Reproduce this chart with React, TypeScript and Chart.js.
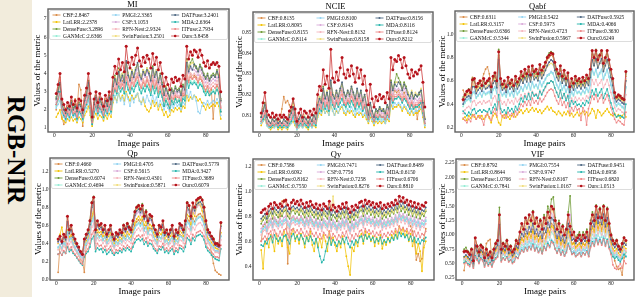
import React, { useEffect, useRef } from 'react';
import { Chart, registerables } from 'chart.js';

Chart.register(...registerables);

const SERIF = '"Liberation Serif", "Times New Roman", serif';

const METHODS = ['CBF', 'LatLRR', 'DenseFuse', 'GANMcC', 'PMGI', 'CSF', 'RFN-Nest', 'SwinFusion', 'DATFuse', 'MDA', 'ITFuse', 'Ours'];
const LINE_COLORS = ['#d98a45', '#f2c200', '#6d9a34', '#93ecd4', '#92d2f0', '#d9aad9', '#f5b5bd', '#f0dd7a', '#4c6682', '#22b3aa', '#ee8686', '#d45050'];
const MARK_COLORS = ['#d98a45', '#f2c200', '#6d9a34', '#93ecd4', '#92d2f0', '#d9aad9', '#f5b5bd', '#f0dd7a', '#4c6682', '#22b3aa', '#ee8686', '#b5121b'];

const X_TICKS = [0, 20, 40, 60, 80];
const X_MIN = -3.35;
const X_MAX = 92.35;

// ---------------- MI ----------------
const MI_MEANS = ['2.8467', '2.2378', '3.2896', '2.6366', '2.3365', '3.1053', '2.9324', '3.2501', '3.2401', '2.6364', '2.7934', '3.8458'];
const MI_TICKS = [1, 2, 3, 4, 5, 6, 7];
const MI_CBF = [2.0,3.2,3.8,1.6,1.2,1.5,2.2,1.8,2.4,1.7, 2.6,2.0,3.4,3.1,1.1,2.5,2.9,3.6,2.4,1.3, 2.2,2.7,2.0,2.5,2.3,1.6,2.5,2.0,2.8,2.2, 3.1,3.6,3.0,4.0,3.3,3.6,3.2,4.3,3.5,3.2, 3.8,3.4,3.7,4.0,3.4,3.2,3.7,3.3,3.8,3.4, 3.0,3.9,3.2,3.6,2.9,3.3,2.8,2.2,2.6,2.3, 2.0,2.6,2.4,2.7,2.5,2.6,2.2,2.8,2.6,4.2, 3.6,4.0,3.7,3.9,3.8,3.5,3.9,3.6,3.2,3.0, 3.3,2.8,3.1,1.5,3.0,3.3,2.9,1.9];
const MI_LATLRR = [1.6,1.8,2.0,1.5,1.4,1.3,1.5,1.4,1.6,1.4, 1.5,1.3,1.6,1.5,1.3,1.7,1.9,2.2,1.7,1.1, 1.6,1.8,1.5,1.7,1.6,1.4,1.7,1.5,1.8,1.6, 2.4,2.7,2.5,2.9,2.6,2.8,2.5,3.0,2.7,2.5, 2.8,2.6,2.7,2.9,2.5,2.4,2.6,2.2,2.0,1.9, 2.1,2.5,2.2,2.4,2.0,2.3,2.0,1.7,1.9,1.6, 1.7,2.0,1.9,2.1,2.0,2.1,1.9,2.2,2.1,2.8, 2.5,2.7,2.6,2.8,2.7,2.5,2.6,2.4,2.2,2.0, 2.3,2.1,2.2,2.3,2.2,2.4,2.2,1.5];
const MI_DENSEFUSE = [2.7,3.1,3.4,2.4,2.1,1.9,2.2,2.0,2.5,2.1, 2.3,2.0,2.4,2.3,1.9,2.6,2.9,3.6,2.7,1.5, 2.4,2.8,2.2,2.7,2.4,2.1,2.6,2.3,2.8,2.4, 3.4,3.9,3.5,4.3,3.7,4.0,3.6,4.6,4.0,3.7, 4.2,3.9,4.3,4.5,4.0,3.8,4.2,4.0,4.3,4.1, 3.7,4.4,3.9,4.2,3.6,4.0,3.5,2.9,3.3,3.0, 2.7,3.2,3.0,3.3,3.1,3.2,2.9,3.4,3.2,4.8, 4.3,4.6,4.8,4.5,4.4,4.2,4.5,4.3,4.0,3.8, 4.0,3.7,3.9,4.0,3.9,4.2,3.9,2.6];
const MI_GANMCC = [2.2,2.5,2.7,1.9,1.7,1.5,1.8,1.6,2.0,1.7, 1.8,1.5,1.9,1.8,1.5,2.1,2.3,2.7,2.1,1.3, 1.9,2.2,1.8,2.1,1.9,1.6,2.1,1.8,2.2,1.9, 2.7,3.1,2.8,3.3,3.0,3.2,2.9,3.6,3.2,3.0, 3.3,3.1,3.4,3.6,3.2,3.0,3.3,3.1,3.4,3.2, 2.9,3.4,3.0,3.3,2.8,3.1,2.8,2.3,2.6,2.4, 2.2,2.6,2.4,2.6,2.5,2.6,2.3,2.7,2.6,3.7, 3.3,3.6,3.5,3.6,3.5,3.3,3.5,3.4,3.1,2.9, 3.1,2.8,3.0,3.1,3.0,3.2,3.0,2.0];
const MI_PMGI = [2.1,2.3,2.5,1.8,1.6,1.4,1.7,1.5,1.9,1.6, 1.7,1.4,1.8,1.7,1.4,1.9,2.1,2.5,1.9,1.2, 1.8,2.0,1.7,1.9,1.8,1.5,1.9,1.7,2.0,1.8, 2.5,2.8,2.4,2.9,2.5,2.7,2.3,2.9,2.6,2.2, 2.7,2.4,2.8,2.9,2.5,2.3,2.7,2.4,2.8,2.5, 2.3,2.8,2.4,2.7,2.2,2.5,2.3,2.0,2.3,2.1, 1.9,2.3,2.1,2.4,2.2,2.3,2.0,2.4,2.3,3.1, 2.7,3.0,2.6,2.8,2.5,1.9,1.8,2.2,2.4,2.3, 2.5,2.3,2.4,2.5,2.4,2.6,2.4,1.7];
const MI_CSF = [2.5,2.9,3.2,2.2,2.0,1.7,2.1,1.9,2.3,1.9, 2.1,1.8,2.2,2.1,1.7,2.4,2.7,3.3,2.5,1.4, 2.2,2.6,2.1,2.5,2.2,1.9,2.4,2.1,2.6,2.2, 3.2,3.6,3.3,4.0,3.5,3.8,3.4,4.3,3.8,3.5, 4.0,3.7,4.0,4.3,3.8,3.6,4.0,3.8,4.1,3.9, 3.5,4.1,3.6,4.0,3.4,3.7,3.3,2.8,3.1,2.8, 2.5,3.0,2.8,3.0,2.9,3.0,2.7,3.1,3.0,4.4, 4.0,4.3,4.2,4.2,4.1,3.9,4.2,4.0,3.7,3.5, 3.7,3.4,3.6,3.7,3.6,3.8,3.6,2.4];
const MI_RFNNEST = [2.4,2.7,3.0,2.1,1.9,1.7,2.0,1.8,2.2,1.9, 2.0,1.7,2.1,2.0,1.7,2.3,2.5,3.0,2.3,1.4, 2.1,2.4,2.0,2.3,2.1,1.8,2.3,2.0,2.4,2.1, 3.0,3.4,3.1,3.7,3.3,3.5,3.2,4.0,3.5,3.3, 3.7,3.4,3.8,4.0,3.5,3.3,3.7,3.5,3.8,3.6, 3.3,3.8,3.4,3.7,3.2,3.5,3.1,2.6,2.9,2.7, 2.4,2.8,2.7,2.9,2.8,2.8,2.6,3.0,2.9,4.1, 3.7,4.0,3.9,4.0,3.9,3.7,3.9,3.8,3.5,3.3, 3.5,3.2,3.4,3.5,3.4,3.6,3.4,2.2];
const MI_SWIN = [2.6,3.0,3.3,2.3,2.1,1.8,2.2,2.0,2.4,2.0, 2.2,1.9,2.3,2.2,1.8,2.6,2.8,3.4,2.6,1.5, 2.3,2.7,2.2,2.6,2.3,2.0,2.6,2.2,2.7,2.3, 3.3,3.8,3.5,4.2,3.7,4.0,3.6,4.6,4.0,3.7, 4.2,3.9,4.3,4.5,4.0,3.8,4.2,4.0,4.3,4.1, 3.7,4.3,3.8,4.2,3.6,3.9,3.4,2.9,3.3,2.9, 2.6,3.1,2.9,3.2,3.0,3.1,2.8,3.3,3.1,4.7, 4.2,4.5,4.6,4.4,4.3,4.1,4.4,4.2,3.9,3.7, 3.9,3.6,3.8,3.9,3.8,4.0,3.8,2.5];
const MI_DATFUSE = [2.6,3.0,3.5,2.3,2.0,1.8,2.1,2.0,2.4,2.0, 2.2,1.9,2.3,2.2,1.8,2.5,2.8,3.5,2.6,1.4, 2.3,2.7,2.1,2.6,2.3,2.0,2.5,2.2,2.7,2.3, 3.3,3.7,3.4,4.1,3.6,3.9,3.5,4.7,3.9,3.6, 4.1,3.8,4.2,4.6,3.9,3.7,4.1,3.9,4.2,4.0, 3.6,4.3,3.8,4.1,3.5,3.9,3.4,2.8,3.2,2.9, 2.6,3.1,2.9,3.2,3.0,3.1,2.8,3.3,3.1,4.6, 4.1,4.4,4.2,4.5,4.3,4.1,4.4,4.2,3.9,3.7, 3.9,3.6,3.8,3.9,3.8,4.1,3.8,2.5];
const MI_MDA = [2.3,2.6,3.0,2.0,1.7,1.5,1.8,1.6,2.0,1.7, 1.8,1.5,1.9,1.8,1.5,2.1,2.3,2.8,2.1,1.2, 1.9,2.2,1.8,2.1,1.9,1.6,2.0,1.8,2.2,1.9, 2.8,3.1,2.9,3.3,3.0,3.2,2.9,3.5,3.1,2.9, 3.2,3.0,3.3,3.5,3.1,2.9,3.2,3.0,3.3,3.1, 2.8,3.3,2.9,3.2,2.7,3.0,2.7,2.2,2.5,2.3, 2.1,2.5,2.3,2.6,2.4,2.5,2.2,2.6,2.5,3.6, 3.2,3.5,3.4,3.5,3.4,3.2,3.4,3.3,3.0,2.8, 3.0,2.8,2.9,3.0,2.9,3.1,2.9,1.9];
const MI_ITFUSE = [2.3,2.6,2.9,2.0,1.8,1.6,1.9,1.7,2.1,1.8, 1.9,1.6,2.0,1.9,1.6,2.2,2.4,2.9,2.2,1.3, 2.0,2.3,1.9,2.2,2.0,1.7,2.2,1.9,2.3,2.0, 2.9,3.2,3.0,3.5,3.2,3.4,3.1,3.8,3.4,3.1, 3.5,3.3,3.6,3.8,3.4,3.2,3.5,3.3,3.6,3.4, 3.1,3.6,3.2,3.5,3.0,3.3,2.9,2.5,2.8,2.6, 2.3,2.7,2.6,2.8,2.7,2.7,2.5,2.9,2.8,3.9, 3.5,3.8,3.7,3.8,3.7,3.5,3.7,3.6,3.3,3.1, 3.3,3.0,3.2,3.3,3.2,3.4,3.2,2.1];
const MI_OURS = [2.9,3.4,4.0,2.6,2.3,2.0,2.4,2.2,2.7,2.3, 2.5,2.1,2.6,2.5,2.0,2.8,3.2,4.0,2.9,1.6, 2.6,3.0,2.4,2.9,2.6,2.2,2.8,2.5,3.0,2.6, 3.8,4.4,4.0,4.8,4.2,4.6,4.1,5.5,4.6,4.3, 4.9,4.5,5.0,5.4,4.7,4.4,4.9,4.6,5.0,4.8, 4.3,5.1,4.5,4.9,4.2,4.6,4.0,3.3,3.8,3.4, 3.1,3.7,3.5,3.8,3.6,3.7,3.3,3.9,3.7,5.5, 4.8,5.2,5.0,5.3,5.2,4.9,5.3,5.0,4.6,4.4, 4.7,4.3,4.5,4.6,4.5,4.6,4.4,3.0];

// ---------------- NCIE ----------------
const NCIE_MEANS = ['0.8135', '0.8095', '0.8155', '0.8114', '0.8100', '0.8143', '0.8132', '0.8158', '0.8156', '0.8116', '0.8124', '0.8212'];
const NCIE_TICKS = [0.81, 0.82, 0.83, 0.84, 0.85];
const NCIE_CBF = [0.806,0.809,0.812,0.806,0.804,0.805,0.806,0.805,0.806,0.805, 0.807,0.813,0.819,0.816,0.817,0.815,0.812,0.814,0.810,0.804, 0.806,0.808,0.805,0.807,0.806,0.805,0.807,0.805,0.808,0.806, 0.813,0.816,0.814,0.820,0.815,0.818,0.814,0.823,0.817,0.815, 0.819,0.816,0.819,0.822,0.817,0.815,0.818,0.816,0.820,0.817, 0.814,0.818,0.815,0.818,0.813,0.816,0.811,0.807,0.812,0.809, 0.806,0.809,0.808,0.810,0.809,0.809,0.807,0.811,0.809,0.822, 0.819,0.822,0.821,0.822,0.820,0.818,0.821,0.819,0.816,0.814, 0.817,0.813,0.815,0.808,0.814,0.816,0.811,0.805];
const NCIE_LATLRR = [0.805,0.807,0.808,0.805,0.804,0.803,0.804,0.804,0.805,0.803, 0.804,0.803,0.804,0.804,0.803,0.805,0.806,0.807,0.805,0.803, 0.804,0.805,0.804,0.805,0.804,0.803,0.805,0.804,0.805,0.804, 0.809,0.811,0.810,0.813,0.811,0.812,0.810,0.815,0.812,0.810, 0.812,0.811,0.813,0.814,0.811,0.810,0.812,0.811,0.812,0.810, 0.809,0.811,0.810,0.811,0.809,0.810,0.808,0.806,0.809,0.807, 0.805,0.807,0.806,0.807,0.806,0.807,0.806,0.808,0.807,0.815, 0.813,0.814,0.814,0.815,0.814,0.812,0.814,0.813,0.811,0.810, 0.812,0.810,0.811,0.811,0.812,0.813,0.809,0.804];
const NCIE_DENSEFUSE = [0.809,0.813,0.816,0.809,0.807,0.806,0.808,0.806,0.808,0.806, 0.807,0.806,0.807,0.807,0.806,0.810,0.812,0.817,0.811,0.805, 0.808,0.810,0.807,0.809,0.808,0.806,0.809,0.807,0.810,0.808, 0.815,0.819,0.817,0.824,0.818,0.821,0.816,0.826,0.820,0.818, 0.821,0.818,0.822,0.825,0.820,0.818,0.821,0.819,0.823,0.820, 0.817,0.822,0.818,0.821,0.816,0.819,0.814,0.810,0.815,0.811, 0.809,0.812,0.811,0.813,0.812,0.812,0.810,0.814,0.812,0.827, 0.823,0.826,0.830,0.828,0.826,0.823,0.826,0.824,0.821,0.819, 0.821,0.818,0.820,0.819,0.820,0.822,0.815,0.808];
const NCIE_GANMCC = [0.806,0.808,0.810,0.805,0.804,0.804,0.805,0.804,0.805,0.804, 0.805,0.804,0.805,0.804,0.804,0.806,0.807,0.809,0.806,0.803, 0.805,0.806,0.804,0.806,0.805,0.804,0.806,0.804,0.806,0.805, 0.811,0.814,0.812,0.816,0.813,0.815,0.812,0.819,0.815,0.813, 0.816,0.814,0.816,0.818,0.815,0.813,0.816,0.814,0.817,0.815, 0.812,0.816,0.813,0.815,0.812,0.814,0.810,0.807,0.811,0.808, 0.806,0.809,0.808,0.809,0.808,0.809,0.807,0.810,0.808,0.819, 0.816,0.818,0.818,0.819,0.818,0.816,0.818,0.817,0.815,0.813, 0.815,0.813,0.814,0.814,0.815,0.816,0.811,0.805];
const NCIE_PMGI = [0.806,0.807,0.809,0.805,0.804,0.804,0.805,0.804,0.805,0.804, 0.805,0.804,0.805,0.804,0.804,0.805,0.806,0.808,0.806,0.803, 0.804,0.805,0.804,0.805,0.805,0.804,0.805,0.804,0.806,0.805, 0.810,0.812,0.811,0.814,0.811,0.813,0.810,0.816,0.812,0.810, 0.813,0.811,0.814,0.815,0.812,0.811,0.813,0.812,0.814,0.812, 0.810,0.813,0.811,0.813,0.810,0.811,0.809,0.807,0.810,0.808, 0.806,0.808,0.807,0.808,0.807,0.808,0.806,0.809,0.808,0.817, 0.814,0.816,0.815,0.816,0.815,0.813,0.815,0.814,0.812,0.811, 0.813,0.811,0.812,0.812,0.813,0.814,0.810,0.805];
const NCIE_CSF = [0.808,0.811,0.814,0.808,0.806,0.806,0.807,0.806,0.807,0.806, 0.807,0.806,0.807,0.806,0.805,0.808,0.810,0.813,0.809,0.805, 0.807,0.809,0.806,0.808,0.807,0.806,0.808,0.806,0.809,0.807, 0.814,0.817,0.815,0.821,0.816,0.819,0.815,0.824,0.818,0.816, 0.820,0.817,0.821,0.823,0.819,0.817,0.820,0.818,0.822,0.819, 0.816,0.820,0.817,0.820,0.815,0.818,0.813,0.809,0.814,0.811, 0.808,0.811,0.810,0.812,0.811,0.811,0.809,0.813,0.811,0.823, 0.820,0.823,0.822,0.823,0.822,0.820,0.823,0.821,0.818,0.816, 0.819,0.816,0.818,0.817,0.818,0.820,0.814,0.807];
const NCIE_RFNNEST = [0.808,0.810,0.812,0.807,0.806,0.805,0.807,0.806,0.807,0.805, 0.806,0.805,0.806,0.806,0.805,0.808,0.809,0.812,0.808,0.804, 0.807,0.808,0.806,0.808,0.807,0.805,0.807,0.806,0.808,0.807, 0.813,0.816,0.814,0.819,0.815,0.817,0.814,0.822,0.817,0.815, 0.818,0.816,0.819,0.821,0.817,0.816,0.818,0.817,0.820,0.818, 0.815,0.819,0.816,0.818,0.814,0.816,0.812,0.809,0.813,0.810, 0.808,0.811,0.810,0.811,0.810,0.810,0.809,0.812,0.810,0.821, 0.818,0.820,0.820,0.821,0.820,0.818,0.820,0.819,0.817,0.815, 0.817,0.815,0.816,0.816,0.817,0.818,0.813,0.806];
const NCIE_SWIN = [0.810,0.812,0.815,0.809,0.807,0.806,0.808,0.807,0.808,0.807, 0.807,0.806,0.808,0.807,0.806,0.809,0.811,0.815,0.810,0.805, 0.808,0.810,0.807,0.810,0.808,0.806,0.809,0.807,0.810,0.808, 0.816,0.819,0.817,0.823,0.819,0.822,0.817,0.826,0.821,0.819, 0.822,0.819,0.823,0.825,0.821,0.819,0.822,0.820,0.824,0.821, 0.818,0.822,0.819,0.822,0.817,0.820,0.815,0.811,0.816,0.812, 0.810,0.813,0.812,0.814,0.813,0.813,0.811,0.815,0.813,0.825, 0.822,0.825,0.826,0.826,0.825,0.822,0.825,0.823,0.821,0.819, 0.822,0.819,0.821,0.820,0.821,0.823,0.817,0.809];
const NCIE_DATFUSE = [0.809,0.812,0.815,0.809,0.807,0.806,0.808,0.807,0.808,0.806, 0.807,0.806,0.808,0.807,0.806,0.809,0.811,0.814,0.810,0.805, 0.808,0.810,0.807,0.809,0.808,0.806,0.809,0.807,0.810,0.808, 0.815,0.818,0.816,0.823,0.818,0.821,0.817,0.827,0.820,0.818, 0.822,0.819,0.823,0.826,0.821,0.819,0.822,0.820,0.824,0.821, 0.818,0.823,0.819,0.822,0.817,0.820,0.815,0.810,0.816,0.812, 0.809,0.813,0.812,0.814,0.812,0.813,0.811,0.815,0.813,0.826, 0.822,0.825,0.824,0.826,0.825,0.822,0.825,0.823,0.820,0.818, 0.821,0.818,0.820,0.819,0.821,0.822,0.816,0.808];
const NCIE_MDA = [0.807,0.808,0.810,0.806,0.805,0.804,0.805,0.805,0.806,0.804, 0.805,0.804,0.805,0.805,0.804,0.806,0.807,0.810,0.807,0.804, 0.805,0.806,0.805,0.806,0.805,0.804,0.806,0.805,0.807,0.805, 0.811,0.813,0.812,0.816,0.813,0.815,0.812,0.819,0.815,0.813, 0.816,0.814,0.816,0.818,0.815,0.814,0.816,0.814,0.817,0.815, 0.813,0.816,0.814,0.816,0.812,0.814,0.811,0.808,0.811,0.809, 0.807,0.809,0.808,0.810,0.809,0.809,0.808,0.810,0.809,0.819, 0.816,0.818,0.818,0.819,0.818,0.816,0.818,0.817,0.815,0.813, 0.815,0.813,0.814,0.814,0.815,0.816,0.811,0.806];
const NCIE_ITFUSE = [0.807,0.809,0.811,0.806,0.805,0.805,0.806,0.805,0.806,0.805, 0.806,0.805,0.806,0.805,0.805,0.807,0.808,0.811,0.808,0.804, 0.806,0.807,0.805,0.807,0.806,0.805,0.807,0.805,0.807,0.806, 0.812,0.815,0.813,0.818,0.814,0.816,0.813,0.821,0.816,0.814, 0.817,0.815,0.818,0.820,0.816,0.815,0.817,0.816,0.819,0.817, 0.814,0.818,0.815,0.817,0.813,0.815,0.811,0.808,0.812,0.809, 0.807,0.810,0.809,0.810,0.809,0.809,0.808,0.811,0.809,0.820, 0.817,0.819,0.819,0.820,0.819,0.817,0.819,0.818,0.816,0.814, 0.816,0.814,0.815,0.815,0.816,0.817,0.812,0.806];
const NCIE_OURS = [0.811,0.816,0.821,0.812,0.810,0.809,0.811,0.809,0.810,0.808, 0.810,0.809,0.810,0.809,0.808,0.812,0.814,0.818,0.813,0.807, 0.811,0.813,0.809,0.812,0.811,0.809,0.812,0.810,0.813,0.811, 0.820,0.824,0.822,0.832,0.825,0.829,0.823,0.842,0.828,0.826, 0.831,0.827,0.833,0.838,0.830,0.828,0.832,0.829,0.834,0.830, 0.826,0.833,0.828,0.832,0.825,0.829,0.822,0.815,0.825,0.818, 0.814,0.819,0.817,0.820,0.818,0.819,0.816,0.821,0.818,0.838, 0.832,0.837,0.836,0.839,0.837,0.833,0.838,0.834,0.830,0.828, 0.832,0.829,0.831,0.830,0.832,0.834,0.826,0.814];

// ---------------- Qabf ----------------
const QABF_MEANS = ['0.6311', '0.3157', '0.6366', '0.5344', '0.5422', '0.5973', '0.4723', '0.5967', '0.5925', '0.4066', '0.3630', '0.6249'];
const QABF_TICKS = [0.2, 0.4, 0.6, 0.8, 1.0];
const QABF_CBF = [0.52,0.47,0.50,0.49,0.47,0.63,0.58,0.52,0.55,0.58, 0.60,0.66,0.70,0.72,0.66,0.52,0.60,0.63,0.56,0.82, 0.58,0.54,0.57,0.52,0.60,0.55,0.58,0.53,0.60,0.55, 0.58,0.64,0.60,0.66,0.62,0.68,0.61,0.69,0.64,0.66, 0.62,0.70,0.65,0.68,0.73,0.78,0.80,0.82,0.81,0.73, 0.66,0.62,0.69,0.60,0.65,0.58,0.63,0.52,0.58,0.55, 0.60,0.56,0.58,0.55,0.59,0.56,0.61,0.58,0.66,0.83, 0.77,0.84,0.76,0.80,0.84,0.72,0.77,0.83,0.75,0.66, 0.58,0.47,0.44,0.46,0.45,0.43,0.42,0.64];
const QABF_LATLRR = [0.27,0.29,0.26,0.30,0.28,0.31,0.29,0.27,0.30,0.28, 0.30,0.27,0.29,0.31,0.28,0.24,0.30,0.32,0.29,0.24, 0.22,0.30,0.28,0.31,0.29,0.27,0.30,0.32,0.29,0.31, 0.33,0.35,0.32,0.34,0.36,0.33,0.35,0.37,0.34,0.36, 0.33,0.35,0.32,0.34,0.36,0.38,0.35,0.37,0.34,0.33, 0.31,0.34,0.32,0.30,0.33,0.31,0.34,0.30,0.32,0.29, 0.31,0.33,0.30,0.32,0.34,0.31,0.33,0.30,0.32,0.36, 0.34,0.28,0.35,0.33,0.30,0.32,0.34,0.36,0.33,0.31, 0.30,0.32,0.29,0.31,0.28,0.30,0.32,0.29];
const QABF_DENSEFUSE = [0.46,0.49,0.50,0.53,0.50,0.62,0.60,0.54,0.57,0.59, 0.55,0.60,0.57,0.59,0.60,0.54,0.62,0.65,0.58,0.87, 0.60,0.56,0.58,0.54,0.61,0.57,0.60,0.55,0.62,0.57, 0.60,0.66,0.62,0.68,0.64,0.70,0.63,0.71,0.66,0.68, 0.64,0.72,0.67,0.71,0.75,0.81,0.84,0.85,0.84,0.75, 0.68,0.64,0.71,0.62,0.67,0.60,0.65,0.53,0.60,0.56, 0.62,0.58,0.60,0.57,0.61,0.58,0.63,0.60,0.68,0.85, 0.79,0.87,0.80,0.83,0.85,0.74,0.79,0.85,0.77,0.68, 0.60,0.48,0.45,0.47,0.46,0.44,0.43,0.66];
const QABF_GANMCC = [0.38,0.41,0.43,0.44,0.42,0.49,0.50,0.45,0.47,0.49, 0.46,0.50,0.48,0.49,0.50,0.45,0.52,0.54,0.49,0.68, 0.50,0.47,0.49,0.46,0.51,0.47,0.50,0.46,0.52,0.48, 0.50,0.54,0.51,0.56,0.53,0.57,0.52,0.58,0.54,0.56, 0.53,0.59,0.55,0.58,0.61,0.64,0.65,0.67,0.66,0.61, 0.56,0.53,0.58,0.52,0.55,0.50,0.54,0.45,0.50,0.47, 0.52,0.49,0.50,0.48,0.51,0.49,0.53,0.50,0.56,0.69, 0.65,0.69,0.63,0.66,0.69,0.61,0.65,0.69,0.63,0.56, 0.50,0.41,0.38,0.40,0.39,0.37,0.36,0.54];
const QABF_PMGI = [0.40,0.42,0.44,0.45,0.43,0.50,0.51,0.46,0.48,0.50, 0.47,0.51,0.49,0.50,0.51,0.46,0.53,0.55,0.50,0.70, 0.51,0.48,0.50,0.47,0.52,0.48,0.51,0.47,0.53,0.49, 0.51,0.55,0.52,0.57,0.54,0.58,0.53,0.59,0.55,0.57, 0.54,0.60,0.56,0.59,0.62,0.65,0.66,0.68,0.67,0.62, 0.57,0.54,0.59,0.53,0.56,0.51,0.55,0.46,0.51,0.48, 0.53,0.50,0.51,0.49,0.52,0.50,0.54,0.51,0.57,0.70, 0.66,0.70,0.64,0.67,0.70,0.62,0.66,0.70,0.64,0.57, 0.51,0.42,0.39,0.41,0.40,0.38,0.37,0.55];
const QABF_CSF = [0.42,0.45,0.47,0.48,0.46,0.56,0.57,0.50,0.53,0.55, 0.52,0.57,0.54,0.55,0.57,0.51,0.59,0.61,0.55,0.78, 0.57,0.52,0.55,0.51,0.58,0.53,0.56,0.52,0.59,0.54, 0.57,0.62,0.58,0.64,0.60,0.66,0.60,0.67,0.62,0.64, 0.61,0.68,0.63,0.66,0.70,0.74,0.76,0.78,0.77,0.70, 0.64,0.61,0.67,0.59,0.63,0.57,0.62,0.51,0.57,0.53, 0.59,0.55,0.57,0.54,0.58,0.55,0.60,0.57,0.64,0.79, 0.74,0.79,0.72,0.76,0.79,0.69,0.74,0.79,0.72,0.64, 0.57,0.46,0.43,0.44,0.43,0.42,0.41,0.62];
const QABF_RFNNEST = [0.32,0.35,0.37,0.38,0.36,0.42,0.43,0.39,0.41,0.42, 0.40,0.43,0.41,0.42,0.43,0.39,0.45,0.47,0.42,0.58, 0.43,0.40,0.42,0.39,0.44,0.41,0.43,0.40,0.45,0.42, 0.44,0.48,0.45,0.49,0.46,0.50,0.46,0.51,0.48,0.49, 0.47,0.52,0.49,0.51,0.54,0.57,0.58,0.60,0.59,0.54, 0.50,0.47,0.52,0.46,0.49,0.45,0.48,0.40,0.45,0.42, 0.46,0.43,0.45,0.43,0.45,0.43,0.47,0.45,0.50,0.61, 0.57,0.61,0.56,0.58,0.61,0.54,0.57,0.61,0.56,0.50, 0.45,0.37,0.34,0.36,0.35,0.33,0.32,0.48];
const QABF_SWIN = [0.43,0.46,0.48,0.49,0.47,0.57,0.56,0.51,0.54,0.55, 0.53,0.57,0.54,0.56,0.57,0.52,0.58,0.61,0.55,0.76, 0.57,0.53,0.55,0.52,0.58,0.54,0.56,0.52,0.59,0.55, 0.57,0.62,0.59,0.64,0.60,0.65,0.60,0.66,0.62,0.64, 0.61,0.67,0.63,0.66,0.69,0.72,0.74,0.75,0.74,0.69, 0.64,0.61,0.66,0.59,0.63,0.57,0.62,0.52,0.57,0.54, 0.59,0.55,0.57,0.55,0.58,0.55,0.60,0.57,0.64,0.78, 0.73,0.78,0.72,0.75,0.78,0.69,0.73,0.78,0.72,0.64, 0.57,0.47,0.44,0.45,0.44,0.43,0.42,0.61];
const QABF_DATFUSE = [0.40,0.44,0.46,0.47,0.45,0.55,0.55,0.49,0.52,0.54, 0.51,0.56,0.53,0.54,0.56,0.50,0.58,0.60,0.54,0.78, 0.56,0.52,0.54,0.50,0.57,0.53,0.55,0.51,0.58,0.53, 0.56,0.61,0.58,0.63,0.59,0.65,0.59,0.66,0.61,0.63, 0.60,0.67,0.62,0.65,0.69,0.73,0.76,0.78,0.77,0.69, 0.63,0.60,0.66,0.58,0.62,0.56,0.61,0.50,0.56,0.52, 0.58,0.54,0.56,0.53,0.57,0.54,0.59,0.56,0.63,0.78, 0.73,0.79,0.71,0.75,0.79,0.68,0.73,0.78,0.71,0.63, 0.56,0.45,0.42,0.44,0.43,0.41,0.40,0.60];
const QABF_MDA = [0.34,0.32,0.30,0.33,0.31,0.35,0.36,0.32,0.34,0.35, 0.33,0.35,0.34,0.33,0.36,0.32,0.37,0.40,0.35,0.48, 0.36,0.33,0.35,0.32,0.37,0.34,0.36,0.33,0.38,0.35, 0.40,0.45,0.42,0.47,0.44,0.49,0.44,0.50,0.47,0.48, 0.45,0.51,0.48,0.52,0.55,0.58,0.58,0.60,0.59,0.54, 0.50,0.46,0.52,0.45,0.49,0.43,0.47,0.38,0.43,0.40, 0.42,0.39,0.40,0.38,0.41,0.39,0.43,0.41,0.46,0.52, 0.48,0.53,0.47,0.50,0.53,0.45,0.49,0.53,0.47,0.41, 0.36,0.31,0.29,0.30,0.30,0.29,0.28,0.40];
const QABF_ITFUSE = [0.28,0.26,0.24,0.27,0.25,0.30,0.31,0.27,0.29,0.30, 0.27,0.22,0.30,0.32,0.29,0.26,0.33,0.36,0.30,0.42, 0.32,0.29,0.31,0.28,0.33,0.30,0.32,0.29,0.34,0.31, 0.36,0.40,0.38,0.42,0.39,0.43,0.39,0.45,0.41,0.43, 0.40,0.45,0.42,0.44,0.47,0.50,0.52,0.53,0.52,0.47, 0.43,0.40,0.45,0.39,0.42,0.37,0.41,0.32,0.37,0.34, 0.38,0.35,0.36,0.26,0.37,0.34,0.22,0.36,0.41,0.47, 0.44,0.48,0.42,0.45,0.48,0.41,0.44,0.48,0.43,0.37, 0.32,0.27,0.24,0.26,0.25,0.23,0.22,0.33];
const QABF_OURS = [0.44,0.48,0.51,0.52,0.50,0.61,0.62,0.55,0.58,0.60, 0.56,0.62,0.58,0.60,0.62,0.55,0.64,0.67,0.60,0.85, 0.62,0.57,0.60,0.55,0.63,0.58,0.61,0.56,0.64,0.59, 0.62,0.68,0.64,0.70,0.66,0.72,0.65,0.73,0.68,0.70, 0.66,0.74,0.69,0.72,0.76,0.80,0.82,0.84,0.83,0.76, 0.70,0.66,0.73,0.64,0.69,0.62,0.67,0.55,0.62,0.58, 0.64,0.60,0.62,0.59,0.63,0.60,0.65,0.62,0.70,0.86, 0.80,0.86,0.78,0.82,0.86,0.75,0.80,0.86,0.78,0.70, 0.62,0.50,0.46,0.48,0.47,0.45,0.44,0.68];

// ---------------- Qp ----------------
const QP_MEANS = ['0.4660', '0.5270', '0.6074', '0.4694', '0.4705', '0.5615', '0.4301', '0.5871', '0.5779', '0.3427', '0.3689', '0.6079'];
const QP_TICKS = [0.0, 0.2, 0.4, 0.6, 0.8, 1.0, 1.2];
const QP_CBF = [0.08,0.38,0.34,0.42,0.36,0.55,0.44,0.48,0.40,0.34, 0.30,0.26,0.22,0.20,0.08,0.38,0.44,0.52,0.68,0.75, 0.44,0.52,0.48,0.50,0.44,0.48,0.40,0.44,0.48,0.40, 0.36,0.42,0.40,0.44,0.42,0.48,0.45,0.50,0.46,0.44, 0.52,0.60,0.64,0.66,0.62,0.66,0.56,0.60,0.52,0.57, 0.56,0.48,0.44,0.40,0.48,0.46,0.52,0.42,0.44,0.40, 0.44,0.48,0.38,0.44,0.41,0.50,0.48,0.44,0.52,0.68, 0.65,0.56,0.68,0.64,0.70,0.72,0.73,0.70,0.64,0.52, 0.44,0.40,0.30,0.18,0.10,0.08,0.06,0.05];
const QP_LATLRR = [0.40,0.50,0.58,0.45,0.42,0.55,0.47,0.50,0.44,0.40, 0.36,0.33,0.30,0.28,0.38,0.43,0.47,0.55,0.70,0.78, 0.48,0.55,0.52,0.53,0.48,0.52,0.44,0.48,0.52,0.44, 0.40,0.45,0.43,0.47,0.45,0.52,0.48,0.53,0.50,0.47, 0.55,0.63,0.67,0.70,0.66,0.70,0.60,0.64,0.56,0.61, 0.59,0.52,0.48,0.44,0.52,0.50,0.55,0.45,0.48,0.44, 0.48,0.52,0.42,0.48,0.45,0.54,0.52,0.48,0.55,0.72, 0.70,0.61,0.74,0.70,0.80,0.84,0.82,0.76,0.68,0.55, 0.46,0.44,0.41,0.38,0.35,0.34,0.33,0.52];
const QP_DENSEFUSE = [0.44,0.47,0.43,0.49,0.46,0.68,0.54,0.58,0.49,0.44, 0.39,0.35,0.30,0.29,0.44,0.49,0.54,0.66,0.86,0.92, 0.54,0.64,0.59,0.61,0.54,0.59,0.49,0.54,0.59,0.49, 0.46,0.52,0.50,0.55,0.53,0.61,0.57,0.63,0.59,0.56, 0.66,0.76,0.81,0.83,0.77,0.84,0.72,0.77,0.64,0.71, 0.69,0.59,0.54,0.49,0.59,0.57,0.64,0.51,0.54,0.49, 0.54,0.59,0.47,0.54,0.51,0.61,0.59,0.54,0.64,0.86, 0.81,0.71,0.84,0.79,0.87,0.88,0.90,0.89,0.81,0.66, 0.56,0.52,0.48,0.46,0.41,0.40,0.39,0.62];
const QP_GANMCC = [0.35,0.38,0.34,0.40,0.37,0.53,0.43,0.46,0.39,0.35, 0.31,0.28,0.25,0.23,0.35,0.39,0.43,0.50,0.65,0.70, 0.43,0.50,0.46,0.48,0.43,0.47,0.40,0.43,0.47,0.40, 0.36,0.41,0.39,0.43,0.41,0.47,0.44,0.48,0.45,0.43, 0.50,0.57,0.61,0.63,0.60,0.63,0.54,0.58,0.50,0.55, 0.54,0.47,0.43,0.39,0.47,0.45,0.50,0.41,0.43,0.39, 0.43,0.47,0.38,0.43,0.41,0.48,0.47,0.43,0.50,0.65, 0.62,0.54,0.65,0.61,0.67,0.69,0.70,0.67,0.61,0.50, 0.43,0.40,0.37,0.35,0.31,0.31,0.30,0.48];
const QP_PMGI = [0.36,0.39,0.35,0.41,0.38,0.52,0.43,0.46,0.40,0.36, 0.32,0.29,0.26,0.24,0.36,0.40,0.44,0.50,0.64,0.68, 0.44,0.50,0.47,0.48,0.44,0.47,0.40,0.44,0.47,0.40, 0.37,0.42,0.40,0.44,0.42,0.47,0.44,0.49,0.46,0.44, 0.50,0.57,0.60,0.62,0.59,0.62,0.54,0.58,0.51,0.55, 0.54,0.47,0.44,0.40,0.47,0.46,0.50,0.42,0.44,0.40, 0.44,0.47,0.39,0.44,0.42,0.48,0.47,0.44,0.50,0.64, 0.62,0.55,0.64,0.61,0.66,0.68,0.69,0.66,0.61,0.50, 0.43,0.41,0.38,0.36,0.32,0.32,0.31,0.48];
const QP_CSF = [0.41,0.44,0.39,0.46,0.43,0.62,0.50,0.54,0.46,0.41, 0.36,0.32,0.28,0.26,0.41,0.45,0.50,0.59,0.77,0.83, 0.51,0.59,0.55,0.56,0.51,0.55,0.46,0.51,0.55,0.46, 0.42,0.48,0.46,0.50,0.48,0.55,0.52,0.57,0.53,0.51, 0.59,0.68,0.73,0.75,0.71,0.75,0.65,0.69,0.60,0.66, 0.64,0.56,0.51,0.46,0.55,0.54,0.59,0.48,0.51,0.46, 0.51,0.55,0.44,0.51,0.48,0.57,0.55,0.51,0.59,0.77, 0.74,0.65,0.77,0.73,0.80,0.82,0.83,0.80,0.73,0.59, 0.50,0.47,0.44,0.41,0.37,0.36,0.35,0.57];
const QP_RFNNEST = [0.33,0.35,0.32,0.37,0.34,0.47,0.39,0.42,0.36,0.33, 0.29,0.26,0.23,0.21,0.32,0.36,0.40,0.46,0.58,0.62, 0.40,0.46,0.43,0.44,0.40,0.43,0.37,0.40,0.43,0.37, 0.34,0.38,0.37,0.40,0.38,0.43,0.40,0.44,0.42,0.40, 0.46,0.52,0.55,0.57,0.54,0.57,0.49,0.53,0.46,0.50, 0.49,0.43,0.40,0.37,0.43,0.42,0.46,0.38,0.40,0.37, 0.40,0.43,0.36,0.40,0.38,0.44,0.43,0.40,0.46,0.58, 0.56,0.50,0.58,0.55,0.60,0.62,0.63,0.60,0.55,0.46, 0.40,0.38,0.35,0.33,0.30,0.30,0.29,0.44];
const QP_SWIN = [0.43,0.46,0.44,0.48,0.45,0.65,0.52,0.56,0.48,0.43, 0.38,0.34,0.30,0.28,0.42,0.47,0.52,0.62,0.80,0.86, 0.53,0.62,0.57,0.59,0.53,0.57,0.48,0.53,0.57,0.48, 0.44,0.50,0.48,0.53,0.50,0.58,0.54,0.60,0.56,0.53, 0.62,0.72,0.77,0.80,0.75,0.80,0.68,0.73,0.63,0.69, 0.67,0.58,0.53,0.48,0.58,0.56,0.62,0.50,0.53,0.48, 0.53,0.58,0.46,0.53,0.50,0.60,0.58,0.53,0.62,0.80, 0.78,0.68,0.82,0.77,0.86,0.87,0.84,0.80,0.76,0.62, 0.53,0.50,0.46,0.43,0.39,0.38,0.37,0.60];
const QP_DATFUSE = [0.42,0.45,0.40,0.47,0.44,0.64,0.51,0.55,0.47,0.42, 0.37,0.33,0.29,0.27,0.42,0.46,0.51,0.61,0.80,0.86, 0.52,0.61,0.56,0.58,0.52,0.56,0.47,0.52,0.56,0.47, 0.43,0.49,0.47,0.52,0.49,0.57,0.53,0.59,0.55,0.52, 0.61,0.71,0.76,0.78,0.74,0.78,0.67,0.71,0.62,0.68, 0.66,0.57,0.52,0.47,0.57,0.55,0.61,0.49,0.52,0.47, 0.52,0.57,0.45,0.52,0.49,0.59,0.57,0.52,0.61,0.80, 0.77,0.67,0.80,0.76,0.83,0.85,0.86,0.83,0.75,0.61, 0.52,0.49,0.45,0.42,0.38,0.37,0.36,0.59];
const QP_MDA = [0.28,0.30,0.27,0.31,0.29,0.36,0.31,0.33,0.29,0.27, 0.24,0.21,0.18,0.16,0.25,0.29,0.31,0.36,0.45,0.48, 0.31,0.35,0.33,0.34,0.30,0.33,0.28,0.30,0.33,0.29, 0.27,0.30,0.29,0.32,0.30,0.34,0.32,0.35,0.33,0.31, 0.36,0.41,0.44,0.45,0.43,0.45,0.39,0.42,0.37,0.40, 0.39,0.34,0.32,0.29,0.34,0.33,0.36,0.30,0.32,0.29, 0.32,0.34,0.28,0.32,0.30,0.35,0.34,0.31,0.36,0.46, 0.44,0.39,0.46,0.43,0.48,0.49,0.50,0.48,0.44,0.36, 0.32,0.30,0.27,0.25,0.23,0.22,0.21,0.34];
const QP_ITFUSE = [0.28,0.30,0.27,0.32,0.29,0.40,0.33,0.36,0.31,0.28, 0.25,0.22,0.19,0.17,0.27,0.31,0.34,0.40,0.50,0.54, 0.34,0.40,0.37,0.38,0.34,0.37,0.32,0.34,0.37,0.32, 0.29,0.33,0.32,0.35,0.33,0.37,0.35,0.38,0.36,0.34, 0.40,0.45,0.48,0.49,0.47,0.49,0.43,0.46,0.40,0.44, 0.43,0.37,0.34,0.32,0.37,0.36,0.40,0.33,0.35,0.32, 0.35,0.37,0.31,0.35,0.33,0.38,0.37,0.35,0.40,0.50, 0.48,0.43,0.50,0.47,0.52,0.53,0.54,0.52,0.48,0.40, 0.35,0.33,0.30,0.28,0.25,0.25,0.24,0.38];
const QP_OURS = [0.45,0.48,0.42,0.50,0.47,0.70,0.55,0.60,0.50,0.45, 0.40,0.36,0.31,0.28,0.45,0.50,0.55,0.65,0.85,0.91, 0.55,0.65,0.60,0.62,0.55,0.60,0.50,0.55,0.60,0.50, 0.45,0.52,0.50,0.55,0.52,0.60,0.56,0.62,0.58,0.55, 0.65,0.75,0.80,0.82,0.78,0.82,0.70,0.75,0.65,0.72, 0.70,0.60,0.55,0.50,0.60,0.58,0.65,0.52,0.55,0.50, 0.55,0.60,0.48,0.55,0.52,0.62,0.60,0.55,0.65,0.85, 0.82,0.70,0.85,0.80,0.88,0.90,0.91,0.88,0.80,0.65, 0.55,0.52,0.48,0.45,0.40,0.40,0.38,0.63];

// ---------------- Qy ----------------
const QY_MEANS = ['0.7586', '0.6092', '0.8162', '0.7550', '0.7471', '0.7756', '0.7258', '0.8276', '0.8489', '0.6150', '0.6706', '0.8810'];
const QY_TICKS = [0.4, 0.6, 0.8, 1.0, 1.2];
const QY_CBF = [0.60,0.72,0.74,0.68,0.76,0.78,0.73,0.79,0.76,0.74, 0.80,0.92,0.93,0.92,0.42,0.72,0.78,0.80,0.77,0.79, 0.76,0.80,0.77,0.74,0.78,0.75,0.79,0.76,0.73,0.77, 0.72,0.75,0.71,0.76,0.74,0.72,0.77,0.71,0.75,0.73, 0.70,0.74,0.72,0.76,0.73,0.77,0.72,0.69,0.74,0.71, 0.75,0.73,0.77,0.78,0.74,0.79,0.76,0.78,0.75,0.77, 0.73,0.76,0.74,0.77,0.72,0.75,0.73,0.76,0.74,0.77, 0.75,0.79,0.76,0.81,0.78,0.80,0.77,0.79,0.75,0.72, 0.68,0.60,0.45,0.50,0.44,0.46,0.62,0.70];
const QY_LATLRR = [0.53,0.38,0.58,0.62,0.55,0.65,0.60,0.52,0.66,0.58, 0.62,0.56,0.68,0.64,0.55,0.50,0.66,0.70,0.60,0.65, 0.58,0.66,0.62,0.55,0.64,0.60,0.68,0.57,0.52,0.62, 0.56,0.62,0.55,0.65,0.60,0.52,0.68,0.58,0.63,0.57, 0.52,0.60,0.55,0.64,0.58,0.48,0.40,0.33,0.55,0.52, 0.60,0.56,0.64,0.66,0.58,0.68,0.62,0.66,0.60,0.64, 0.56,0.63,0.58,0.65,0.54,0.60,0.57,0.63,0.59,0.65, 0.62,0.68,0.63,0.72,0.66,0.70,0.64,0.68,0.60,0.66, 0.56,0.62,0.50,0.58,0.52,0.36,0.55,0.60];
const QY_DENSEFUSE = [0.74,0.77,0.79,0.75,0.80,0.83,0.78,0.84,0.81,0.79, 0.83,0.80,0.84,0.85,0.80,0.78,0.84,0.85,0.82,0.84, 0.81,0.85,0.82,0.79,0.83,0.80,0.84,0.81,0.79,0.82, 0.78,0.81,0.77,0.83,0.80,0.78,0.84,0.77,0.81,0.79, 0.76,0.80,0.78,0.83,0.79,0.84,0.78,0.75,0.80,0.77, 0.81,0.79,0.84,0.85,0.80,0.86,0.82,0.85,0.81,0.84, 0.79,0.83,0.80,0.84,0.78,0.81,0.79,0.83,0.80,0.84, 0.82,0.86,0.83,0.88,0.84,0.87,0.83,0.86,0.81,0.85, 0.80,0.84,0.79,0.83,0.78,0.82,0.80,0.84];
const QY_GANMCC = [0.68,0.70,0.72,0.69,0.74,0.76,0.72,0.77,0.75,0.73, 0.76,0.74,0.77,0.78,0.74,0.72,0.77,0.78,0.76,0.77, 0.75,0.78,0.76,0.73,0.77,0.74,0.78,0.75,0.73,0.76, 0.72,0.75,0.71,0.76,0.74,0.72,0.77,0.71,0.75,0.73, 0.70,0.74,0.72,0.76,0.73,0.77,0.72,0.69,0.74,0.71, 0.75,0.73,0.77,0.78,0.74,0.79,0.76,0.78,0.75,0.77, 0.73,0.76,0.74,0.77,0.72,0.75,0.73,0.76,0.74,0.77, 0.75,0.79,0.76,0.81,0.78,0.80,0.77,0.79,0.75,0.78, 0.74,0.77,0.73,0.76,0.72,0.75,0.74,0.77];
const QY_PMGI = [0.67,0.70,0.71,0.68,0.73,0.75,0.71,0.76,0.74,0.72, 0.75,0.73,0.76,0.77,0.73,0.71,0.76,0.77,0.75,0.76, 0.74,0.77,0.75,0.72,0.76,0.73,0.77,0.74,0.72,0.75, 0.71,0.74,0.70,0.75,0.73,0.71,0.76,0.70,0.74,0.72, 0.69,0.73,0.71,0.75,0.72,0.76,0.71,0.68,0.73,0.70, 0.74,0.72,0.76,0.77,0.73,0.78,0.75,0.77,0.74,0.76, 0.72,0.75,0.73,0.76,0.71,0.74,0.72,0.75,0.73,0.76, 0.74,0.78,0.75,0.80,0.77,0.79,0.76,0.78,0.74,0.77, 0.73,0.76,0.72,0.75,0.71,0.74,0.73,0.76];
const QY_CSF = [0.70,0.73,0.75,0.71,0.76,0.78,0.74,0.79,0.77,0.75, 0.78,0.76,0.79,0.80,0.76,0.74,0.79,0.80,0.78,0.79, 0.77,0.80,0.78,0.75,0.79,0.76,0.80,0.77,0.75,0.78, 0.74,0.77,0.73,0.78,0.76,0.74,0.79,0.73,0.77,0.75, 0.72,0.76,0.74,0.78,0.75,0.79,0.74,0.71,0.76,0.73, 0.77,0.75,0.79,0.80,0.76,0.81,0.78,0.80,0.77,0.79, 0.75,0.78,0.76,0.79,0.74,0.77,0.75,0.78,0.76,0.79, 0.77,0.81,0.78,0.83,0.80,0.82,0.79,0.81,0.77,0.80, 0.76,0.79,0.75,0.78,0.74,0.77,0.76,0.79];
const QY_RFNNEST = [0.65,0.68,0.69,0.66,0.71,0.73,0.69,0.74,0.72,0.70, 0.73,0.71,0.74,0.75,0.71,0.69,0.74,0.75,0.73,0.74, 0.72,0.75,0.73,0.70,0.74,0.71,0.75,0.72,0.70,0.73, 0.69,0.72,0.68,0.73,0.71,0.69,0.74,0.68,0.72,0.70, 0.67,0.71,0.69,0.73,0.70,0.74,0.69,0.66,0.71,0.68, 0.72,0.70,0.74,0.75,0.71,0.76,0.73,0.75,0.72,0.74, 0.70,0.73,0.71,0.74,0.69,0.72,0.70,0.73,0.71,0.74, 0.72,0.76,0.73,0.78,0.75,0.77,0.74,0.76,0.72,0.75, 0.71,0.74,0.70,0.73,0.69,0.72,0.71,0.74];
const QY_SWIN = [0.76,0.79,0.80,0.77,0.82,0.84,0.80,0.85,0.83,0.81, 0.84,0.82,0.85,0.86,0.82,0.80,0.85,0.86,0.84,0.85, 0.83,0.86,0.84,0.81,0.85,0.82,0.86,0.83,0.81,0.84, 0.80,0.83,0.79,0.84,0.82,0.80,0.90,0.86,0.96,0.82, 0.78,0.82,0.80,0.84,0.81,0.85,0.80,0.77,0.82,0.79, 0.83,0.81,0.85,0.86,0.82,0.87,0.84,0.86,0.83,0.85, 0.81,0.84,0.82,0.85,0.80,0.83,0.81,0.84,0.82,0.85, 0.83,0.87,0.84,0.89,0.86,0.88,0.85,0.87,0.83,0.86, 0.82,0.85,0.81,0.84,0.80,0.83,0.82,0.85];
const QY_DATFUSE = [0.78,0.80,0.82,0.78,0.84,0.86,0.82,0.87,0.85,0.83, 0.86,0.84,0.87,0.88,0.84,0.82,0.87,0.88,0.86,0.87, 0.85,0.88,0.86,0.83,0.87,0.84,0.88,0.85,0.83,0.86, 0.82,0.85,0.81,0.86,0.84,0.82,0.87,0.81,0.85,0.83, 0.80,0.84,0.82,0.86,0.83,0.87,0.82,0.79,0.84,0.81, 0.85,0.83,0.87,0.88,0.84,0.89,0.86,0.88,0.85,0.87, 0.83,0.86,0.84,0.87,0.82,0.85,0.83,0.86,0.84,0.87, 0.85,0.89,0.86,0.92,0.88,0.91,0.87,0.89,0.85,0.88, 0.84,0.87,0.83,0.86,0.82,0.85,0.84,0.87];
const QY_MDA = [0.57,0.56,0.60,0.58,0.62,0.64,0.59,0.65,0.62,0.60, 0.63,0.60,0.64,0.65,0.61,0.58,0.64,0.66,0.62,0.64, 0.61,0.65,0.62,0.58,0.63,0.60,0.64,0.61,0.58,0.62, 0.55,0.48,0.43,0.45,0.52,0.58,0.63,0.57,0.61,0.59, 0.56,0.60,0.58,0.62,0.59,0.63,0.58,0.55,0.60,0.57, 0.61,0.59,0.63,0.64,0.60,0.65,0.62,0.64,0.61,0.63, 0.59,0.62,0.60,0.63,0.58,0.61,0.59,0.62,0.60,0.63, 0.61,0.65,0.62,0.67,0.64,0.66,0.63,0.65,0.61,0.64, 0.60,0.63,0.59,0.62,0.58,0.61,0.60,0.63];
const QY_ITFUSE = [0.60,0.62,0.64,0.61,0.66,0.68,0.63,0.69,0.66,0.64, 0.68,0.65,0.69,0.70,0.66,0.63,0.69,0.70,0.67,0.69, 0.66,0.70,0.67,0.64,0.68,0.65,0.70,0.66,0.64,0.67, 0.63,0.66,0.62,0.67,0.65,0.63,0.68,0.62,0.66,0.64, 0.61,0.65,0.63,0.67,0.64,0.68,0.63,0.60,0.65,0.62, 0.66,0.64,0.68,0.69,0.65,0.70,0.67,0.69,0.66,0.68, 0.64,0.67,0.65,0.68,0.63,0.66,0.64,0.67,0.65,0.68, 0.66,0.70,0.67,0.72,0.69,0.71,0.68,0.70,0.66,0.69, 0.65,0.68,0.64,0.67,0.63,0.66,0.65,0.68];
const QY_OURS = [0.83,0.85,0.86,0.82,0.88,0.90,0.86,0.91,0.89,0.87, 0.90,0.88,0.92,0.93,0.89,0.86,0.91,0.93,0.90,0.92, 0.89,0.93,0.90,0.87,0.91,0.88,0.92,0.89,0.87,0.90, 0.86,0.89,0.85,0.90,0.88,0.86,0.92,0.85,0.89,0.87, 0.84,0.88,0.86,0.90,0.87,0.91,0.86,0.83,0.88,0.85, 0.89,0.87,0.91,0.92,0.88,0.93,0.90,0.92,0.89,0.91, 0.87,0.90,0.88,0.91,0.86,0.89,0.87,0.90,0.88,0.91, 0.89,0.93,0.90,0.96,0.92,0.95,0.91,0.93,0.89,0.92, 0.88,0.91,0.87,0.90,0.86,0.89,0.88,0.91];

// ---------------- VIF ----------------
const VIF_MEANS = ['0.8792', '0.8644', '1.0766', '0.7841', '0.7554', '0.9747', '0.8167', '1.0167', '0.9451', '0.6956', '0.6820', '1.0513'];
const VIF_TICKS = [0.25, 0.5, 0.75, 1.0, 1.25, 1.5, 1.75, 2.0, 2.25];
const VIF_CBF = [0.38,0.62,0.60,0.56,0.64,0.48,0.80,0.70,0.62,0.72, 0.70,0.68,0.85,0.90,0.92,0.55,0.66,0.75,0.80,1.12, 0.66,0.75,0.70,0.78,0.66,0.70,0.62,0.66,0.78,0.74, 0.86,0.95,0.90,1.02,0.95,1.05,0.97,1.10,0.95,1.02, 0.90,0.98,0.88,1.03,0.96,1.12,1.04,1.20,1.16,0.98, 0.87,0.98,0.84,0.92,0.80,0.88,1.10,0.98,0.85,0.87, 0.79,0.83,0.86,0.79,0.86,0.83,0.90,0.79,1.02,1.15, 1.06,1.26,1.12,1.22,1.10,1.26,1.06,1.20,1.00,0.86, 0.72,0.55,0.45,0.40,0.42,0.30,0.60,0.70];
const VIF_LATLRR = [0.60,0.62,0.58,0.55,0.63,0.47,0.78,0.68,0.60,0.70, 0.66,0.52,0.64,0.56,0.60,0.52,0.64,0.72,0.76,1.05, 0.64,0.72,0.68,0.76,0.64,0.68,0.60,0.64,0.76,0.72, 0.84,0.92,0.88,0.98,0.92,1.02,0.94,1.06,0.92,0.98, 0.88,0.96,0.72,0.80,0.94,1.08,1.00,1.15,1.12,0.96, 0.85,0.95,0.82,0.90,0.78,0.86,1.06,0.95,0.83,0.85, 0.77,0.81,0.84,0.77,0.84,0.81,0.88,0.77,1.00,1.12, 1.04,1.22,1.08,1.18,1.06,1.22,1.04,1.18,0.98,0.84, 0.76,0.72,0.76,0.68,0.64,0.72,0.80,0.76];
const VIF_DENSEFUSE = [0.75,0.78,0.72,0.68,0.77,0.57,0.93,0.82,0.72,0.84, 0.80,0.62,0.77,0.67,0.72,0.62,0.77,0.87,0.92,1.48, 0.77,0.87,0.82,0.92,0.77,0.82,0.72,0.77,0.92,0.87, 1.05,1.18,1.10,1.30,1.20,1.35,1.22,1.42,1.20,1.30, 1.15,1.28,1.12,1.35,1.25,1.50,1.40,1.62,1.66,1.30, 1.10,1.25,1.05,1.18,1.00,1.12,1.40,1.68,1.10,1.05, 0.95,1.00,1.05,0.95,1.05,1.00,1.10,0.95,1.25,1.40, 1.30,1.52,1.35,1.48,1.32,1.52,1.28,1.48,1.22,1.02, 0.92,0.86,0.92,0.82,0.77,0.86,0.96,0.85];
const VIF_GANMCC = [0.56,0.58,0.55,0.52,0.58,0.45,0.71,0.63,0.56,0.64, 0.61,0.49,0.59,0.52,0.56,0.49,0.59,0.66,0.69,0.93, 0.59,0.66,0.62,0.69,0.59,0.62,0.56,0.59,0.69,0.66, 0.76,0.83,0.79,0.89,0.83,0.92,0.85,0.96,0.83,0.89, 0.79,0.86,0.77,0.90,0.84,0.98,0.91,1.05,1.01,0.87, 0.77,0.86,0.74,0.81,0.71,0.78,0.96,0.86,0.75,0.77, 0.70,0.74,0.77,0.70,0.77,0.74,0.81,0.70,0.90,1.01, 0.94,1.10,0.98,1.07,0.96,1.10,0.94,1.07,0.89,0.77, 0.69,0.65,0.69,0.62,0.58,0.65,0.73,0.69];
const VIF_PMGI = [0.58,0.60,0.56,0.52,0.62,0.48,0.72,0.64,0.56,0.66, 0.62,0.50,0.60,0.53,0.57,0.50,0.60,0.66,0.70,0.88, 0.62,0.68,0.64,0.70,0.60,0.64,0.56,0.60,0.68,0.66, 0.72,0.78,0.75,0.85,0.78,0.88,0.80,0.92,0.76,0.82, 0.70,0.78,0.68,0.82,0.76,0.88,0.80,0.92,0.88,0.76, 0.70,0.80,0.66,0.74,0.64,0.72,0.86,0.80,0.70,0.72, 0.68,0.72,0.74,0.68,0.74,0.72,0.78,0.68,0.86,0.94, 0.88,1.00,0.90,0.96,0.86,0.98,0.86,0.92,0.80,0.72, 0.66,0.62,0.66,0.60,0.56,0.62,0.68,0.64];
const VIF_CSF = [0.68,0.70,0.67,0.63,0.71,0.53,0.87,0.76,0.67,0.78, 0.74,0.58,0.71,0.62,0.67,0.57,0.71,0.80,0.85,1.22, 0.71,0.80,0.76,0.84,0.71,0.76,0.67,0.71,0.84,0.80, 0.96,1.06,1.00,1.15,1.06,1.19,1.10,1.25,1.06,1.15, 1.02,1.12,0.98,1.17,1.08,1.26,1.17,1.38,1.32,1.12, 0.98,1.10,0.95,1.04,0.90,1.00,1.25,1.35,0.95,0.96, 0.88,0.92,0.96,0.88,0.96,0.92,1.00,0.88,1.12,1.26, 1.16,1.38,1.22,1.34,1.20,1.38,1.16,1.34,1.10,0.94, 0.85,0.80,0.85,0.76,0.72,0.80,0.88,0.84];
const VIF_RFNNEST = [0.58,0.60,0.56,0.53,0.60,0.46,0.74,0.65,0.58,0.67, 0.63,0.50,0.61,0.54,0.58,0.50,0.61,0.69,0.72,0.98, 0.61,0.69,0.65,0.72,0.61,0.65,0.58,0.61,0.72,0.69, 0.80,0.87,0.83,0.93,0.87,0.96,0.89,1.00,0.87,0.93, 0.83,0.90,0.80,0.94,0.88,1.02,0.95,1.10,1.06,0.91, 0.80,0.90,0.77,0.85,0.74,0.81,1.00,0.90,0.78,0.80, 0.73,0.77,0.80,0.73,0.80,0.77,0.84,0.73,0.94,1.06, 0.98,1.15,1.02,1.12,1.00,1.15,0.98,1.12,0.93,0.80, 0.72,0.68,0.72,0.64,0.61,0.68,0.76,0.72];
const VIF_SWIN = [0.70,0.72,0.69,0.64,0.73,0.54,0.90,0.78,0.68,0.80, 0.76,0.59,0.73,0.64,0.68,0.58,0.73,0.83,0.88,1.25, 0.73,0.83,0.78,0.87,0.73,0.78,0.68,0.73,0.87,0.83, 1.00,1.12,1.05,1.22,1.12,1.26,1.16,1.32,1.12,1.22, 1.08,1.18,1.04,1.24,1.14,1.34,1.24,1.45,1.40,1.20, 1.05,1.15,1.00,1.10,0.95,1.05,1.30,1.20,1.00,1.00, 0.92,0.96,1.00,0.92,1.00,0.96,1.05,0.92,1.18,1.32, 1.22,1.45,1.28,1.40,1.26,1.45,1.22,1.40,1.16,0.98, 0.88,0.83,0.88,0.79,0.74,0.83,0.92,0.87];
const VIF_DATFUSE = [0.62,0.65,0.62,0.58,0.66,0.50,0.82,0.72,0.63,0.74, 0.70,0.55,0.68,0.59,0.63,0.55,0.68,0.77,0.82,1.18, 0.68,0.77,0.73,0.81,0.68,0.73,0.64,0.68,0.81,0.77, 0.92,1.02,0.97,1.10,1.02,1.14,1.05,1.20,1.02,1.10, 0.98,1.06,0.94,1.12,1.04,1.22,1.13,1.30,1.26,1.06, 0.94,1.06,0.90,0.99,0.86,0.95,1.20,1.05,0.91,0.93, 0.85,0.89,0.93,0.85,0.93,0.89,0.97,0.85,1.10,1.24, 1.14,1.36,1.20,1.32,1.18,1.36,1.14,1.30,1.08,0.92, 0.83,0.78,0.83,0.74,0.70,0.78,0.86,0.82];
const VIF_MDA = [0.52,0.54,0.50,0.48,0.55,0.44,0.64,0.58,0.52,0.60, 0.56,0.46,0.54,0.48,0.52,0.46,0.55,0.60,0.63,0.80, 0.55,0.60,0.57,0.62,0.54,0.57,0.52,0.54,0.62,0.60, 0.68,0.74,0.71,0.78,0.73,0.80,0.75,0.84,0.73,0.78, 0.70,0.76,0.68,0.79,0.74,0.85,0.80,0.90,0.86,0.76, 0.69,0.76,0.66,0.72,0.64,0.70,0.84,0.76,0.67,0.69, 0.63,0.66,0.69,0.63,0.69,0.66,0.72,0.63,0.80,0.88, 0.82,0.94,0.85,0.92,0.84,0.94,0.82,0.92,0.78,0.68, 0.62,0.59,0.62,0.56,0.53,0.59,0.66,0.62];
const VIF_ITFUSE = [0.50,0.52,0.48,0.45,0.53,0.42,0.62,0.56,0.50,0.58, 0.55,0.44,0.52,0.46,0.50,0.44,0.53,0.58,0.61,0.80, 0.53,0.59,0.56,0.61,0.53,0.56,0.50,0.53,0.61,0.59, 0.67,0.73,0.70,0.77,0.72,0.79,0.74,0.82,0.72,0.77, 0.69,0.75,0.67,0.78,0.73,0.83,0.78,0.88,0.85,0.75, 0.68,0.75,0.65,0.71,0.63,0.69,0.82,0.75,0.66,0.68, 0.62,0.65,0.68,0.62,0.68,0.65,0.71,0.62,0.78,0.86, 0.80,0.92,0.83,0.90,0.82,0.92,0.80,0.90,0.76,0.66, 0.48,0.42,0.40,0.45,0.50,0.42,0.55,0.50];
const VIF_OURS = [0.71,0.72,0.70,0.66,0.75,0.55,0.95,0.80,0.70,0.82, 0.78,0.60,0.75,0.65,0.70,0.60,0.75,0.85,0.90,1.35, 0.75,0.85,0.80,0.90,0.75,0.80,0.70,0.75,0.90,0.85, 1.05,1.20,1.10,1.30,1.20,1.35,1.25,1.40,1.20,1.30, 1.15,1.25,1.10,1.30,1.20,1.40,1.30,1.50,1.45,1.25, 1.10,1.20,1.05,1.15,1.00,1.10,1.35,1.15,1.00,1.05, 0.90,0.95,1.00,0.90,1.00,0.95,1.05,0.90,1.20,1.35, 1.25,1.50,1.30,1.45,1.30,1.50,1.25,1.45,1.20,1.00, 0.90,0.85,0.90,0.80,0.75,0.85,0.95,0.90];

type PanelSpec = {
  title: string;
  means: string[];
  series: number[][];
  yMin: number;
  yMax: number;
  yTicks: number[];
  decimals: number;
  left: number;
  top: number;
  width: number;
  height: number;
  yAxisW: number;
  yTitlePad: number;
  titlePad: { top: number; bottom: number };
};

const PANELS: PanelSpec[] = [
  {
    title: 'MI', means: MI_MEANS, yTicks: MI_TICKS, decimals: 0, yMin: 0.78, yMax: 7.55,
    series: [MI_CBF, MI_LATLRR, MI_DENSEFUSE, MI_GANMCC, MI_PMGI, MI_CSF, MI_RFNNEST, MI_SWIN, MI_DATFUSE, MI_MDA, MI_ITFUSE, MI_OURS],
    left: 33, top: 0, width: 200, height: 148, yAxisW: 15, yTitlePad: 0.5, titlePad: { top: 1.6, bottom: 0.6 },
  },
  {
    title: 'NCIE', means: NCIE_MEANS, yTicks: NCIE_TICKS, decimals: 2, yMin: 0.8018, yMax: 0.8601,
    series: [NCIE_CBF, NCIE_LATLRR, NCIE_DENSEFUSE, NCIE_GANMCC, NCIE_PMGI, NCIE_CSF, NCIE_RFNNEST, NCIE_SWIN, NCIE_DATFUSE, NCIE_MDA, NCIE_ITFUSE, NCIE_OURS],
    left: 235, top: 0, width: 202, height: 148, yAxisW: 18, yTitlePad: 0.5, titlePad: { top: 3.6, bottom: 1.6 },
  },
  {
    title: 'Qabf', means: QABF_MEANS, yTicks: QABF_TICKS, decimals: 1, yMin: 0.16, yMax: 1.2,
    series: [QABF_CBF, QABF_LATLRR, QABF_DENSEFUSE, QABF_GANMCC, QABF_PMGI, QABF_CSF, QABF_RFNNEST, QABF_SWIN, QABF_DATFUSE, QABF_MDA, QABF_ITFUSE, QABF_OURS],
    left: 438, top: 0, width: 200, height: 148, yAxisW: 17, yTitlePad: 0, titlePad: { top: 3.6, bottom: 0.6 },
  },
  {
    title: 'Qp', means: QP_MEANS, yTicks: QP_TICKS, decimals: 1, yMin: -0.005, yMax: 1.345,
    series: [QP_CBF, QP_LATLRR, QP_DENSEFUSE, QP_GANMCC, QP_PMGI, QP_CSF, QP_RFNNEST, QP_SWIN, QP_DATFUSE, QP_MDA, QP_ITFUSE, QP_OURS],
    left: 33, top: 148, width: 200, height: 148, yAxisW: 17, yTitlePad: 0.8, titlePad: { top: 2.1, bottom: 1.1 },
  },
  {
    title: 'Qy', means: QY_MEANS, yTicks: QY_TICKS, decimals: 1, yMin: 0.29, yMax: 1.258,
    series: [QY_CBF, QY_LATLRR, QY_DENSEFUSE, QY_GANMCC, QY_PMGI, QY_CSF, QY_RFNNEST, QY_SWIN, QY_DATFUSE, QY_MDA, QY_ITFUSE, QY_OURS],
    left: 235, top: 148, width: 203, height: 148, yAxisW: 18, yTitlePad: 0.5, titlePad: { top: 3.6, bottom: 0.6 },
  },
  {
    title: 'VIF', means: VIF_MEANS, yTicks: VIF_TICKS, decimals: 2, yMin: 0.215, yMax: 2.32,
    series: [VIF_CBF, VIF_LATLRR, VIF_DENSEFUSE, VIF_GANMCC, VIF_PMGI, VIF_CSF, VIF_RFNNEST, VIF_SWIN, VIF_DATFUSE, VIF_MDA, VIF_ITFUSE, VIF_OURS],
    left: 438, top: 148, width: 200, height: 148, yAxisW: 18, yTitlePad: 0, titlePad: { top: 3.6, bottom: 0.6 },
  },
];

const framePlugin = {
  id: 'frame',
  afterDatasetsDraw(chart: any) {
    const { ctx, chartArea: a } = chart;
    ctx.save();
    ctx.strokeStyle = '#606060';
    ctx.lineWidth = 1.4;
    ctx.strokeRect(a.left, a.top, a.right - a.left, a.bottom - a.top);
    ctx.restore();
  },
};

const gridLegendPlugin = {
  id: 'gridLegend',
  afterDraw(chart: any) {
    const { ctx, chartArea: a } = chart;
    const ds = chart.data.datasets;
    const w = a.right - a.left;
    ctx.save();
    const bx = a.left + 1.5;
    const by = a.top + 1.5;
    const bw = w - 3;
    const bh = 29;
    const r = 1.5;
    ctx.beginPath();
    ctx.moveTo(bx + r, by);
    ctx.lineTo(bx + bw - r, by);
    ctx.quadraticCurveTo(bx + bw, by, bx + bw, by + r);
    ctx.lineTo(bx + bw, by + bh - r);
    ctx.quadraticCurveTo(bx + bw, by + bh, bx + bw - r, by + bh);
    ctx.lineTo(bx + r, by + bh);
    ctx.quadraticCurveTo(bx, by + bh, bx, by + bh - r);
    ctx.lineTo(bx, by + r);
    ctx.quadraticCurveTo(bx, by, bx + r, by);
    ctx.closePath();
    ctx.fillStyle = 'rgba(255,255,255,0.82)';
    ctx.fill();
    ctx.strokeStyle = '#cfcfcf';
    ctx.lineWidth = 0.7;
    ctx.stroke();
    const colW = (w - 3) / 3;
    ctx.font = `5.4px ${SERIF}`;
    ctx.textBaseline = 'middle';
    ctx.textAlign = 'left';
    ds.forEach((d: any, i: number) => {
      const col = Math.floor(i / 4);
      const row = i % 4;
      const sx = a.left + 4.5 + col * colW;
      const sy = a.top + 6 + row * 7;
      ctx.strokeStyle = LINE_COLORS[i];
      ctx.lineWidth = 0.9;
      ctx.beginPath();
      ctx.moveTo(sx, sy);
      ctx.lineTo(sx + 8, sy);
      ctx.stroke();
      ctx.fillStyle = MARK_COLORS[i];
      ctx.beginPath();
      ctx.arc(sx + 4, sy, i === 11 ? 1.3 : 1.0, 0, Math.PI * 2);
      ctx.fill();
      ctx.fillStyle = '#111';
      ctx.fillText(d.label, sx + 10.5, sy + 0.3);
    });
    ctx.restore();
  },
};

function Panel({ spec }: { spec: PanelSpec }) {
  const ref = useRef<HTMLCanvasElement>(null);
  useEffect(() => {
    if (!ref.current) return;
    const chart = new Chart(ref.current, {
      type: 'line',
      data: {
        datasets: spec.series.map((arr, i) => ({
          label: `${METHODS[i]}:${spec.means[i]}`,
          data: arr.map((v, j) => ({ x: j + 1, y: v })),
          borderColor: LINE_COLORS[i],
          backgroundColor: MARK_COLORS[i],
          pointBackgroundColor: MARK_COLORS[i],
          pointBorderColor: MARK_COLORS[i],
          pointBorderWidth: 0,
          pointRadius: i === 11 ? 1.5 : 0.9,
          borderWidth: i === 11 ? 0.9 : 0.75,
          tension: 0,
          fill: false,
          order: 11 - i,
        })),
      },
      options: {
        responsive: false,
        maintainAspectRatio: false,
        animation: false,
        events: [],
        layout: { padding: { left: 0, right: 1, top: 0, bottom: 0 } },
        plugins: {
          legend: { display: false },
          tooltip: { enabled: false },
          title: {
            display: true,
            text: spec.title,
            color: '#000',
            font: { family: SERIF, size: 8.5, lineHeight: 0.8, weight: 'normal' },
            padding: spec.titlePad,
          },
        },
        scales: {
          x: {
            type: 'linear',
            min: X_MIN,
            max: X_MAX,
            afterBuildTicks: (s: any) => { s.ticks = X_TICKS.map((v) => ({ value: v })); },
            afterFit: (s: any) => { s.height = 16; },
            grid: { display: false, drawTicks: false },
            border: { display: false },
            ticks: { font: { family: SERIF, size: 5.5 }, color: '#222', padding: 0.5, maxRotation: 0, autoSkip: false },
            title: { display: true, text: 'Image pairs', color: '#000', font: { family: SERIF, size: 9, lineHeight: 1 }, padding: { top: 0, bottom: 0 } },
          },
          y: {
            type: 'linear',
            min: spec.yMin,
            max: spec.yMax,
            afterBuildTicks: (s: any) => { s.ticks = spec.yTicks.map((v) => ({ value: v })); },
            afterFit: (s: any) => { s.width = spec.yAxisW; },
            grid: { display: false, drawTicks: false },
            border: { display: false },
            ticks: {
              font: { family: SERIF, size: 5.5 },
              color: '#222',
              padding: 1.5,
              autoSkip: false,
              callback: (v: any) => Number(v).toFixed(spec.decimals),
            },
            title: { display: true, text: 'Values of the metric', color: '#000', font: { family: SERIF, size: 9, lineHeight: 1 }, padding: { top: spec.yTitlePad, bottom: 0 } },
          },
        },
      } as any,
      plugins: [framePlugin, gridLegendPlugin],
    });
    return () => chart.destroy();
  }, [spec]);
  return (
    <canvas
      ref={ref}
      width={spec.width}
      height={spec.height}
      style={{ position: 'absolute', left: spec.left, top: spec.top, width: spec.width, height: spec.height }}
    />
  );
}

export default function App() {
  return (
    <div style={{ position: 'absolute', left: 0, top: 0, width: 640, height: 297, background: '#fff', overflow: 'hidden' }}>
      <div style={{ position: 'absolute', left: 0, top: 0, width: 32, height: 297, background: '#f2ecdc' }} />
      <div
        style={{
          position: 'absolute',
          left: 16,
          top: 150,
          transform: 'translate(-50%, -50%) rotate(90deg)',
          fontFamily: SERIF,
          fontWeight: 'bold',
          fontSize: 25,
          whiteSpace: 'nowrap',
          color: '#000',
          lineHeight: 1,
        }}
      >
        RGB-NIR
      </div>
      {PANELS.map((p) => (
        <Panel key={p.title} spec={p} />
      ))}
    </div>
  );
}
